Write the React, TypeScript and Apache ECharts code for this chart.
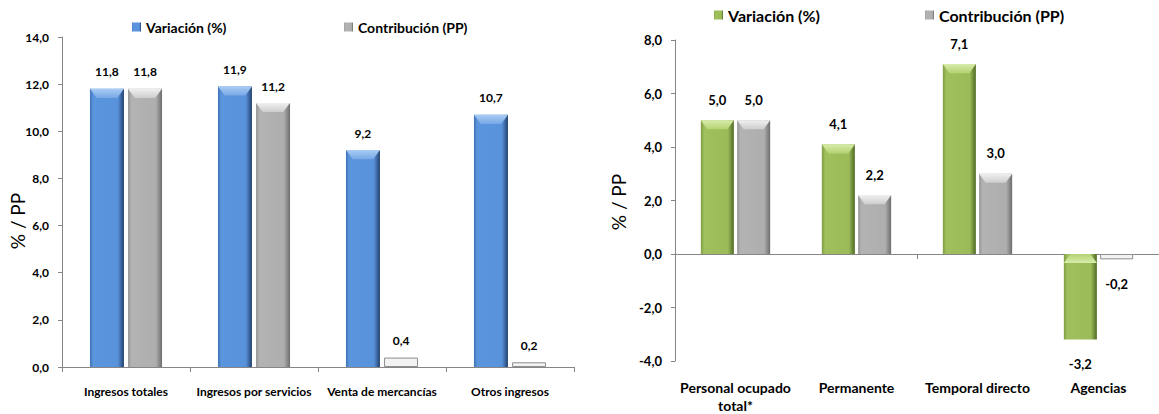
import React, { useEffect, useRef } from "react";
import * as echarts from "echarts";

// ---- data ----
const leftCategories = ["Ingresos totales", "Ingresos por servicios", "Venta de mercancías", "Otros ingresos"];
const leftVariacion = [11.8, 11.9, 9.2, 10.7];
const leftContribucion = [11.8, 11.2, 0.4, 0.2];

const rightCategories = ["Personal ocupado\ntotal*", "Permanente", "Temporal directo", "Agencias"];
const rightVariacion = [5.0, 4.1, 7.1, -3.2];
const rightContribucion = [5.0, 2.2, 3.0, -0.2];

const leftAxisRange = { min: 0, max: 14, interval: 2 };
const rightAxisRange = { min: -4, max: 8, interval: 2 };

const legendVariacion = "Variación (%)";
const legendContribucion = "Contribución (PP)";
const yAxisTitle = "% / PP";

// ---- styles ----
const FONT = "Lato, 'Liberation Sans', sans-serif";
const AXIS_COLOR = "#868686";

const fmt = (v: number) => v.toFixed(1).replace(".", ",");

const hgrad = (stops: [number, string][]) =>
  new echarts.graphic.LinearGradient(0, 0, 1, 0, stops.map(([offset, color]) => ({ offset, color })));
const vgrad = (stops: [number, string][]) =>
  new echarts.graphic.LinearGradient(0, 0, 0, 1, stops.map(([offset, color]) => ({ offset, color })));

const blueFill = () =>
  hgrad([
    [0, "#4173b8"],
    [0.1, "#5b95dd"],
    [0.82, "#5892db"],
    [1, "#22416f"],
  ]);
const grayFill = () =>
  hgrad([
    [0, "#949494"],
    [0.1, "#b3b3b3"],
    [0.82, "#aeaeae"],
    [1, "#6d6d6d"],
  ]);
const greenFill = () =>
  hgrad([
    [0, "#7e9c44"],
    [0.1, "#9fc05d"],
    [0.82, "#9bbb59"],
    [1, "#4f6a22"],
  ]);

const blueBevel = () => vgrad([[0, "#a9ccf3"], [1, "#78a8e6"]]);
const grayBevel = () => vgrad([[0, "#f0f0f0"], [1, "#cdcdcd"]]);
const greenBevel = () => vgrad([[0, "#d8ecaa"], [1, "#b5d273"]]);

const BEVEL_PATH = "path://M0,0 L100,0 L80,100 L20,100 Z";

const mkLabel = (fontSize: number, distance: number) => ({
  show: true,
  position: "top" as const,
  distance,
  fontFamily: FONT,
  fontWeight: "bold" as const,
  fontSize,
  color: "#000",
  formatter: (p: any) => fmt(p.value),
});

const buildData = (values: number[], small = false) =>
  values.map((v) => {
    const item: any = { value: v };
    if (v < 0) {
      item.label = { position: "bottom", distance: 18 };
    }
    if (small && Math.abs(v) < 1) {
      item.itemStyle = { color: "#f3f3f3", borderColor: "#8f8f8f", borderWidth: 1 };
    }
    return item;
  });

const bevelSeries = (
  values: number[],
  xAxisIndex: number,
  yAxisIndex: number,
  width: number,
  offsetX: number,
  fill: () => any
) => ({
  type: "pictorialBar",
  xAxisIndex,
  yAxisIndex,
  silent: true,
  z: 3,
  symbol: BEVEL_PATH,
  symbolSize: [width, 9],
  symbolPosition: "end",
  symbolOffset: [offsetX, 0],
  itemStyle: { color: fill() },
  label: { show: false },
  data: values.map((v) => {
    if (Math.abs(v) < 1) return { value: v, symbol: "none" };
    if (v < 0) return { value: v, symbolPosition: "start" };
    return { value: v };
  }),
});

const legendNames: Record<string, string> = {
  varL: legendVariacion,
  conL: legendContribucion,
  varR: legendVariacion,
  conR: legendContribucion,
};

const mkLegend = (name: string, left: number, top: number, fontSize: number) => ({
  data: [name],
  left,
  top,
  padding: 0,
  icon: "rect",
  itemWidth: 9,
  itemHeight: 9,
  selectedMode: false,
  formatter: (n: string) => legendNames[n],
  textStyle: { fontFamily: FONT, fontWeight: "bold", fontSize, color: "#000" },
});

const valueAxis = (gridIndex: number, range: { min: number; max: number; interval: number }, fontSize: number) => ({
  type: "value",
  gridIndex,
  min: range.min,
  max: range.max,
  interval: range.interval,
  axisLine: { show: true, lineStyle: { color: AXIS_COLOR, width: 1 } },
  axisTick: { show: true, length: 4, lineStyle: { color: AXIS_COLOR } },
  splitLine: { show: false },
  axisLabel: {
    margin: 13,
    fontFamily: FONT,
    fontWeight: "bold",
    fontSize,
    color: "#000",
    formatter: (v: number) => fmt(v),
  },
});

export default function App() {
  const ref = useRef<HTMLDivElement>(null);

  useEffect(() => {
    if (!ref.current) return;
    const chart = echarts.init(ref.current, undefined, { renderer: "svg" });

    const option: any = {
      animation: false,
      backgroundColor: "#ffffff",
      legend: [
        mkLegend("varL", 132, 20, 14),
        mkLegend("conL", 344, 20, 14),
        mkLegend("varR", 714, 7, 16),
        mkLegend("conR", 925, 7, 16),
      ],
      grid: [
        { left: 62, top: 37, width: 512, height: 330, containLabel: false },
        { left: 675, top: 40, width: 500, height: 324, containLabel: false },
      ],
      xAxis: [
        {
          type: "category",
          gridIndex: 0,
          data: leftCategories,
          axisLine: { lineStyle: { color: AXIS_COLOR, width: 1 } },
          axisTick: { show: true, length: 5, lineStyle: { color: AXIS_COLOR } },
          axisLabel: {
            margin: 18,
            interval: 0,
            fontFamily: FONT,
            fontWeight: "bold",
            fontSize: 12,
            color: "#000",
          },
        },
        {
          type: "category",
          gridIndex: 1,
          data: rightCategories,
          axisLine: { onZero: true, lineStyle: { color: AXIS_COLOR, width: 1 } },
          axisTick: { show: true, length: 5, lineStyle: { color: AXIS_COLOR } },
          axisLabel: { show: false },
        },
        {
          type: "category",
          gridIndex: 1,
          data: rightCategories,
          position: "bottom",
          axisLine: { show: false, onZero: false },
          axisTick: { show: false },
          axisLabel: {
            margin: 17,
            interval: 0,
            lineHeight: 18,
            fontFamily: FONT,
            fontWeight: "bold",
            fontSize: 14,
            color: "#000",
          },
        },
      ],
      yAxis: [valueAxis(0, leftAxisRange, 12), valueAxis(1, rightAxisRange, 13)],
      graphic: [
        {
          type: "text",
          x: 17,
          y: 221,
          rotation: Math.PI / 2,
          style: {
            text: yAxisTitle,
            fontFamily: FONT,
            fontSize: 19,
            fill: "#000",
            align: "center",
            verticalAlign: "middle",
          },
        },
        {
          type: "text",
          x: 618,
          y: 202,
          rotation: Math.PI / 2,
          style: {
            text: yAxisTitle,
            fontFamily: FONT,
            fontSize: 19,
            fill: "#000",
            align: "center",
            verticalAlign: "middle",
          },
        },
      ],
      series: [
        {
          name: "varL",
          type: "bar",
          xAxisIndex: 0,
          yAxisIndex: 0,
          barWidth: 34,
          barGap: "12%",
          itemStyle: { color: blueFill() },
          label: mkLabel(12, 11),
          data: buildData(leftVariacion),
        },
        {
          name: "conL",
          type: "bar",
          xAxisIndex: 0,
          yAxisIndex: 0,
          barWidth: 34,
          barGap: "12%",
          itemStyle: { color: grayFill() },
          label: mkLabel(12, 11),
          data: buildData(leftContribucion, true),
        },
        {
          name: "varR",
          type: "bar",
          xAxisIndex: 1,
          yAxisIndex: 1,
          barWidth: 33,
          barGap: "10%",
          itemStyle: { color: greenFill() },
          label: mkLabel(13, 14),
          data: buildData(rightVariacion),
        },
        {
          name: "conR",
          type: "bar",
          xAxisIndex: 1,
          yAxisIndex: 1,
          barWidth: 33,
          barGap: "10%",
          itemStyle: { color: grayFill() },
          label: mkLabel(13, 14),
          data: buildData(rightContribucion, true),
        },
        bevelSeries(leftVariacion, 0, 0, 34, -19, blueBevel),
        bevelSeries(leftContribucion, 0, 0, 34, 19, grayBevel),
        bevelSeries(rightVariacion, 1, 1, 33, -18.15, greenBevel),
        bevelSeries(rightContribucion, 1, 1, 33, 18.15, grayBevel),
      ],
    };

    chart.setOption(option);
    return () => chart.dispose();
  }, []);

  return (
    <div
      ref={ref}
      style={{ position: "absolute", left: 0, top: 0, width: 1159, height: 414, background: "#fff" }}
    />
  );
}
